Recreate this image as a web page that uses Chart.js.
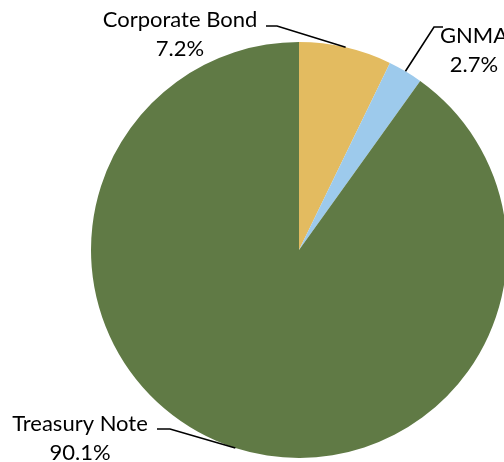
<!DOCTYPE html>
<html>
<head>
<meta charset="utf-8">
<script src="https://cdn.jsdelivr.net/npm/chart.js@4"></script>
<style>
  html, body { margin: 0; padding: 0; background: #fff; overflow: hidden; }
  #wrap { width: 520px; height: 462px; position: relative; }
</style>
</head>
<body>
<div id="wrap"><canvas id="pieChart"></canvas></div>
<script>
// Data
const categories = ['Corporate Bond', 'GNMA', 'Treasury Note'];
const shares = [7.2, 2.7, 90.1];
const sliceColors = ['#E3BB60', '#9DCAEC', '#607A45'];

// Label placement: text centre, and leader line start + knee (end is on the slice edge)
const labelSetup = [
  { text: [180, 20], start: [266, 26], knee: [277, 26] },
  { text: [474, 36], start: [443, 27], knee: [434, 27] },
  { text: [80, 424], start: [157, 429], knee: [170, 429] }
];

// Draws the category/percent labels with leader lines to each slice
const leaderLabels = {
  id: 'leaderLabels',
  afterDatasetsDraw(chart) {
    const ctx = chart.ctx;
    const arcs = chart.getDatasetMeta(0).data;
    ctx.save();
    ctx.font = '22px Lato';
    ctx.fillStyle = '#000';
    ctx.strokeStyle = '#000';
    ctx.lineWidth = 1.6;
    arcs.forEach((arc, i) => {
      const mid = (arc.startAngle + arc.endAngle) / 2;
      const ex = arc.x + Math.cos(mid) * arc.outerRadius;
      const ey = arc.y + Math.sin(mid) * arc.outerRadius;
      const s = labelSetup[i];
      ctx.beginPath();
      ctx.moveTo(s.start[0], s.start[1]);
      ctx.lineTo(s.knee[0], s.knee[1]);
      ctx.lineTo(ex, ey);
      ctx.stroke();
      ctx.textAlign = 'center';
      ctx.textBaseline = 'middle';
      ctx.fillText(categories[i], s.text[0], s.text[1]);
      ctx.fillText(shares[i].toFixed(1) + '%', s.text[0], s.text[1] + 29);
    });
    ctx.restore();
  }
};

new Chart(document.getElementById('pieChart'), {
  type: 'pie',
  data: {
    labels: categories,
    datasets: [{
      data: shares,
      backgroundColor: sliceColors,
      borderWidth: 0
    }]
  },
  options: {
    responsive: true,
    maintainAspectRatio: false,
    animation: false,
    layout: { padding: { left: 91, right: 13, top: 42, bottom: 4 } },
    plugins: {
      legend: { display: false },
      tooltip: { enabled: false }
    }
  },
  plugins: [leaderLabels]
});
</script>
</body>
</html>
